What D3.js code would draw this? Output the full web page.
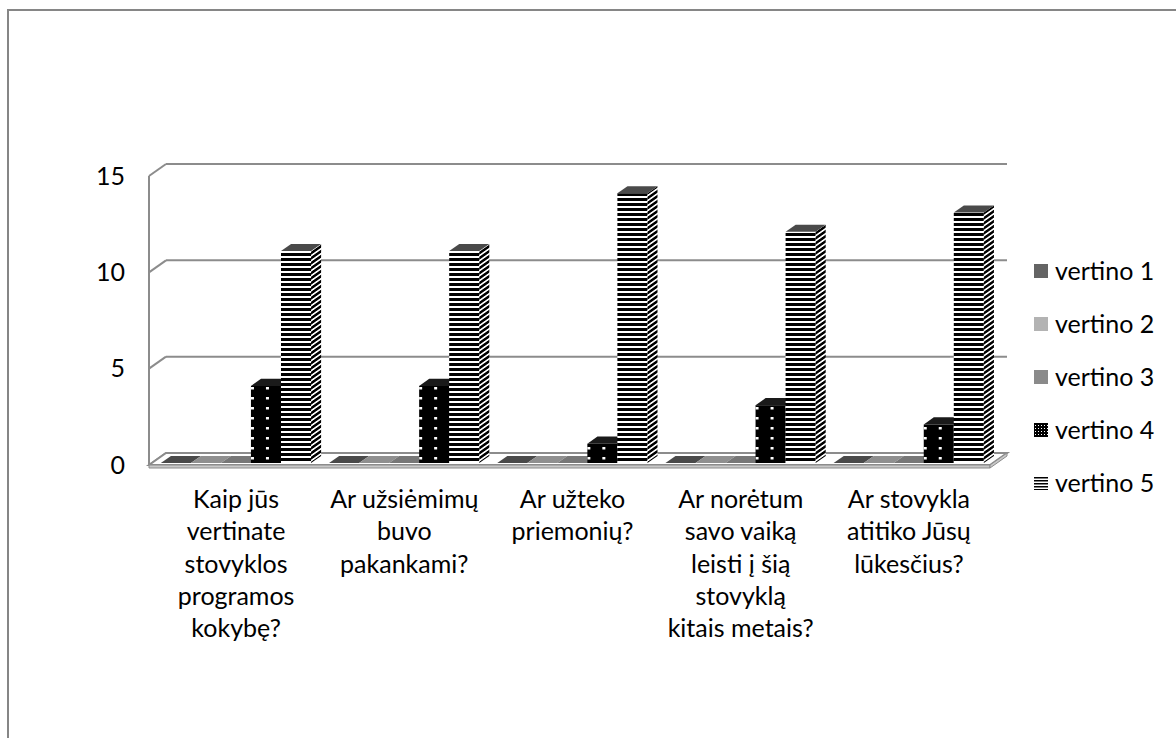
<!DOCTYPE html>
<html>
<head>
<meta charset="utf-8">
<script src="https://cdn.jsdelivr.net/npm/d3@7"></script>
<style>
  body { margin: 0; background: #fff; }
  text { font-family: Lato, "Open Sans", sans-serif; fill: #000; }
</style>
</head>
<body>
<div id="chart"></div>
<script>
// ---- data ----
var categories = ["q1", "q2", "q3", "q4", "q5"];
var categoryLines = [
  ["Kaip jūs", "vertinate", "stovyklos", "programos", "kokybę?"],
  ["Ar užsiėmimų", "buvo", "pakankami?"],
  ["Ar užteko", "priemonių?"],
  ["Ar norėtum", "savo vaiką", "leisti į šią", "stovyklą", "kitais metais?"],
  ["Ar stovykla", "atitiko Jūsų", "lūkesčius?"]
];
var seriesNames = ["vertino 1", "vertino 2", "vertino 3", "vertino 4", "vertino 5"];
var vertino1 = [0, 0, 0, 0, 0];
var vertino2 = [0, 0, 0, 0, 0];
var vertino3 = [0, 0, 0, 0, 0];
var vertino4 = [4, 4, 1, 3, 2];
var vertino5 = [11, 11, 14, 12, 13];
var yTicks = [0, 5, 10, 15];

var seriesValues = [vertino1, vertino2, vertino3, vertino4, vertino5];

// ---- layout ----
var width = 1176, height = 738;
var depth = { x: 17, y: -12 };     // floor depth vector
var barFront = 2 / 12, barBack = 0.76;  // where bars sit inside the depth

var svg = d3.select("#chart").append("svg")
  .attr("width", width)
  .attr("height", height);

var x = d3.scaleBand().domain(categories).range([149, 990]);
var xs = d3.scaleBand().domain(seriesNames).range([0, x.bandwidth()])
  .paddingInner(0).paddingOuter(0.3);
var y = d3.scaleLinear().domain([0, 15]).range([465, 176]);

// outer frame
svg.append("rect")
  .attr("x", 8).attr("y", 10).attr("width", 1300).attr("height", 900)
  .attr("fill", "none").attr("stroke", "#868686").attr("stroke-width", 2);

// ---- patterns ----
var defs = svg.append("defs");

function stripes(id, transform) {
  var p = defs.append("pattern").attr("id", id)
    .attr("patternUnits", "userSpaceOnUse").attr("width", 10).attr("height", 5);
  if (transform) p.attr("patternTransform", transform);
  p.append("rect").attr("width", 10).attr("height", 5).attr("fill", "#fff");
  p.append("rect").attr("width", 10).attr("height", 3).attr("fill", "#000");
}
function dots(id, transform) {
  var p = defs.append("pattern").attr("id", id)
    .attr("patternUnits", "userSpaceOnUse").attr("width", 15).attr("height", 10);
  if (transform) p.attr("patternTransform", transform);
  p.append("rect").attr("width", 15).attr("height", 10).attr("fill", "#000");
  p.append("rect").attr("x", 0).attr("y", 4).attr("width", 3).attr("height", 2.5).attr("fill", "#fff");
}
var skew = "skewY(" + (Math.atan(depth.y / depth.x) * 180 / Math.PI) + ")";
stripes("s5front");
stripes("s5side", skew);
dots("s4front");
dots("s4side", skew);

// tiny legend patterns
var lp4 = defs.append("pattern").attr("id", "l4").attr("patternUnits", "userSpaceOnUse")
  .attr("width", 3).attr("height", 3);
lp4.append("rect").attr("width", 3).attr("height", 3).attr("fill", "#000");
lp4.append("rect").attr("x", 1).attr("y", 1).attr("width", 1).attr("height", 1).attr("fill", "#fff");
var lp5 = defs.append("pattern").attr("id", "l5").attr("patternUnits", "userSpaceOnUse")
  .attr("width", 3).attr("height", 3);
lp5.append("rect").attr("width", 3).attr("height", 3).attr("fill", "#fff");
lp5.append("rect").attr("width", 3).attr("height", 1.5).attr("fill", "#000");

var fronts = ["#595959", "#b2b2b2", "#8a8a8a", "url(#s4front)", "url(#s5front)"];
var sides = ["#3f3f3f", "#8c8c8c", "#6a6a6a", "url(#s4side)", "url(#s5side)"];
var tops = ["#4a4a4a", "#8f8f8f", "#777777", "#1a1a1a", "#4a4a4a"];
var legendFills = ["#646464", "#b3b3b3", "#8a8a8a", "url(#l4)", "url(#l5)"];

// ---- walls and gridlines ----
var gridColor = "#8c8c8c";
var x0 = x.range()[0], x1 = x.range()[1];
var grid = svg.append("g");

grid.selectAll(".back").data(yTicks).enter().append("line")
  .attr("x1", x0 + depth.x).attr("x2", x1 + depth.x)
  .attr("y1", function(d) { return y(d) + depth.y; })
  .attr("y2", function(d) { return y(d) + depth.y; })
  .attr("stroke", gridColor).attr("stroke-width", 2);

grid.selectAll(".diag").data(yTicks).enter().append("line")
  .attr("x1", x0).attr("x2", x0 + depth.x)
  .attr("y1", function(d) { return y(d); })
  .attr("y2", function(d) { return y(d) + depth.y; })
  .attr("stroke", gridColor).attr("stroke-width", 2);

grid.append("line")
  .attr("x1", x0).attr("x2", x0)
  .attr("y1", y(15)).attr("y2", y(0))
  .attr("stroke", gridColor).attr("stroke-width", 2);

// floor
var fy = y(0);
grid.append("polygon")
  .attr("points", [[x0, fy], [x0 + depth.x, fy + depth.y], [x1 + depth.x, fy + depth.y], [x1, fy]].join(" "))
  .attr("fill", "#fff").attr("stroke", gridColor).attr("stroke-width", 2);
grid.append("polygon")
  .attr("points", [[x0, fy], [x1, fy], [x1, fy + 3], [x0, fy + 3]].join(" "))
  .attr("fill", "#c8c8c8").attr("stroke", gridColor).attr("stroke-width", 1);
grid.append("polygon")
  .attr("points", [[x1, fy], [x1 + depth.x, fy + depth.y], [x1 + depth.x, fy + depth.y + 3], [x1, fy + 3]].join(" "))
  .attr("fill", "#c8c8c8").attr("stroke", gridColor).attr("stroke-width", 1);

// ---- bars ----
var bw = xs.bandwidth();
var bdx = depth.x * (barBack - barFront), bdy = depth.y * (barBack - barFront);
var bars = [];
categories.forEach(function(c, ci) {
  seriesNames.forEach(function(s, si) {
    bars.push({ cat: c, s: s, si: si, v: seriesValues[si][ci] });
  });
});

var barG = svg.append("g").selectAll("g").data(bars).enter().append("g")
  .attr("transform", function(d) {
    var bx = x(d.cat) + xs(d.s) + depth.x * barFront;
    var by = y(0) + depth.y * barFront;
    return "translate(" + bx + "," + by + ")";
  });

barG.each(function(d) {
  var g = d3.select(this);
  var h = y(0) - y(d.v);
  if (h > 0) {
    g.append("rect").attr("x", 0).attr("y", -h).attr("width", bw).attr("height", h)
      .attr("fill", fronts[d.si]);
    g.append("polygon")
      .attr("points", [[bw, -h], [bw + bdx, -h + bdy], [bw + bdx, bdy], [bw, 0]].join(" "))
      .attr("fill", sides[d.si]);
  }
  g.append("polygon")
    .attr("points", [[0, -h], [bdx, -h + bdy], [bw + bdx, -h + bdy], [bw, -h]].join(" "))
    .attr("fill", tops[d.si]);
});

// ---- axes text ----
var yAxis = d3.axisLeft(y).tickValues(yTicks).tickSize(0).tickPadding(24);
var yAxisG = svg.append("g").attr("transform", "translate(" + x0 + ",0)").call(yAxis);
yAxisG.select(".domain").remove();
yAxisG.selectAll("text").style("font-family", "Lato, sans-serif").style("font-size", "25px").attr("fill", "#000");

var labels = svg.append("g").selectAll("text").data(categories).enter().append("text")
  .attr("text-anchor", "middle")
  .attr("font-size", 25)
  .attr("x", function(d) { return x(d) + x.bandwidth() / 2 + 3; })
  .attr("y", 508);
labels.each(function(d, i) {
  var t = d3.select(this);
  categoryLines[i].forEach(function(line, li) {
    t.append("tspan").attr("x", t.attr("x")).attr("y", 508 + li * 32.3).text(line);
  });
});

// ---- legend ----
var legend = svg.append("g").selectAll("g").data(seriesNames).enter().append("g")
  .attr("transform", function(d, i) { return "translate(1034," + (271 + i * 53) + ")"; });
legend.append("rect").attr("x", 0).attr("y", -7).attr("width", 14).attr("height", 14)
  .attr("fill", function(d, i) { return legendFills[i]; });
legend.append("text").attr("x", 21).attr("y", 9).attr("font-size", 25).text(function(d) { return d; });
</script>
</body>
</html>
